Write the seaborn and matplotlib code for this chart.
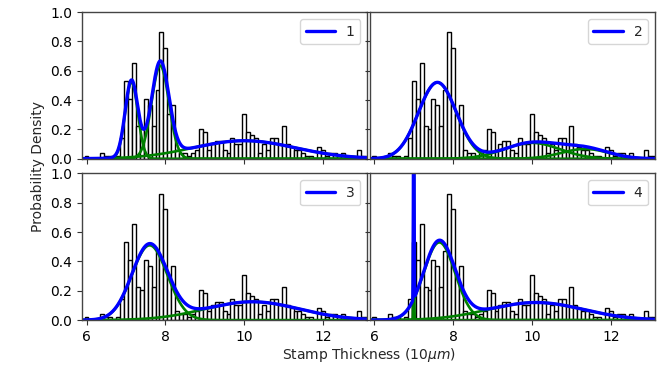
import numpy as np
import pandas as pd
import matplotlib
matplotlib.use("Agg")
import matplotlib.pyplot as plt
import seaborn as sns

sns.set_style("ticks")
plt.rcParams['font.family'] = ['DejaVu Sans']

# Stamp thickness values (10 um) and their observed counts
thickness = [6.0, 6.1, 6.2, 6.3, 6.4, 6.5, 6.6, 6.7, 6.8, 6.9,
             7.0, 7.1, 7.2, 7.3, 7.4, 7.5, 7.6, 7.7, 7.8, 7.9,
             8.0, 8.1, 8.2, 8.3, 8.4, 8.5, 8.6, 8.7, 8.8, 8.9,
             9.0, 9.1, 9.2, 9.3, 9.4, 9.5, 9.6, 9.7, 9.8, 9.9,
             10.0, 10.1, 10.2, 10.3, 10.4, 10.5, 10.6, 10.7, 10.8, 10.9,
             11.0, 11.1, 11.2, 11.3, 11.4, 11.5, 11.6, 11.7, 11.8, 11.9,
             12.0, 12.1, 12.2, 12.3, 12.4, 12.5, 12.6, 12.7, 12.8, 12.9,
             13.0, 13.1]
counts = [1, 0, 0, 0, 2, 1, 1, 0, 1, 7,
          26, 20, 32, 11, 10, 20, 18, 11, 23, 42,
          37, 15, 18, 3, 2, 2, 1, 2, 3, 10,
          9, 3, 5, 6, 6, 3, 2, 7, 5, 5,
          15, 9, 8, 7, 2, 5, 3, 7, 7, 5,
          11, 5, 4, 3, 3, 2, 1, 1, 0, 4,
          3, 1, 2, 2, 1, 2, 0, 0, 0, 3,
          1, 1]

# Fitted mixture components per panel (mean, sd, weight)
panel_labels = ["1", "2", "3", "4"]
p1_means, p1_sds, p1_weights = [7.14, 7.87, 10.0], [0.16, 0.22, 1.3], [0.21, 0.35, 0.40]
p2_means, p2_sds, p2_weights = [7.6, 10.0, 11.35], [0.48, 0.7, 0.6], [0.626, 0.19, 0.10]
p3_means, p3_sds, p3_weights = [7.6, 10.2], [0.45, 1.2], [0.575, 0.376]
p4_means, p4_sds, p4_weights = [7.0, 7.65, 10.1], [0.008, 0.4, 1.2], [0.03, 0.531, 0.361]

components = [(p1_means, p1_sds, p1_weights),
              (p2_means, p2_sds, p2_weights),
              (p3_means, p3_sds, p3_weights),
              (p4_means, p4_sds, p4_weights)]

df = pd.DataFrame({"thickness": thickness, "count": counts})
edges = [round(5.95 + 0.1 * i, 3) for i in range(73)]
grid = np.linspace(5.85, 13.15, 2000)


def normal_pdf(x, m, s):
    return np.exp(-0.5 * ((x - m) / s) ** 2) / (s * np.sqrt(2 * np.pi))


fig, axes = plt.subplots(2, 2, figsize=(6.65, 3.88), dpi=100, sharex=True, sharey=True)
fig.subplots_adjust(left=0.123, right=0.985, top=0.969, bottom=0.175, hspace=0.1, wspace=0.008)

for ax, lab, (means, sds, weights) in zip(axes.flat, panel_labels, components):
    sns.histplot(data=df, x="thickness", weights="count", bins=edges, stat="density",
                 color="white", edgecolor="black", linewidth=1.0, alpha=1.0, ax=ax)
    total = np.zeros_like(grid)
    for m, s, w in zip(means, sds, weights):
        comp = w * normal_pdf(grid, m, s)
        total += comp
        ax.plot(grid, comp, color="green", lw=1.9)
    sns.lineplot(x=grid, y=total, color="blue", lw=2.4, label=lab, ax=ax, sort=False)
    ax.legend(loc="upper right", fontsize=10, handlelength=2.1, borderaxespad=0.5)
    ax.set_xlim(5.88, 13.12)
    ax.set_ylim(0, 1.0)
    ax.set_xlabel("")
    ax.set_ylabel("")
    ax.set_yticks([0.0, 0.2, 0.4, 0.6, 0.8, 1.0])
    ax.set_xticks([6, 8, 10, 12])
    for sp in ax.spines.values():
        sp.set_color("#444444")
        sp.set_linewidth(1.0)
    ax.tick_params(colors="#333333", labelcolor="black", labelsize=10, length=3.5)

fig.text(0.555, 0.085, "Stamp Thickness (10$\\mu m$)", ha="center", va="center", fontsize=10)
fig.text(0.057, 0.572, "Probability Density", ha="center", va="center", rotation=90, fontsize=10)

fig.savefig("out.png", dpi=100)
